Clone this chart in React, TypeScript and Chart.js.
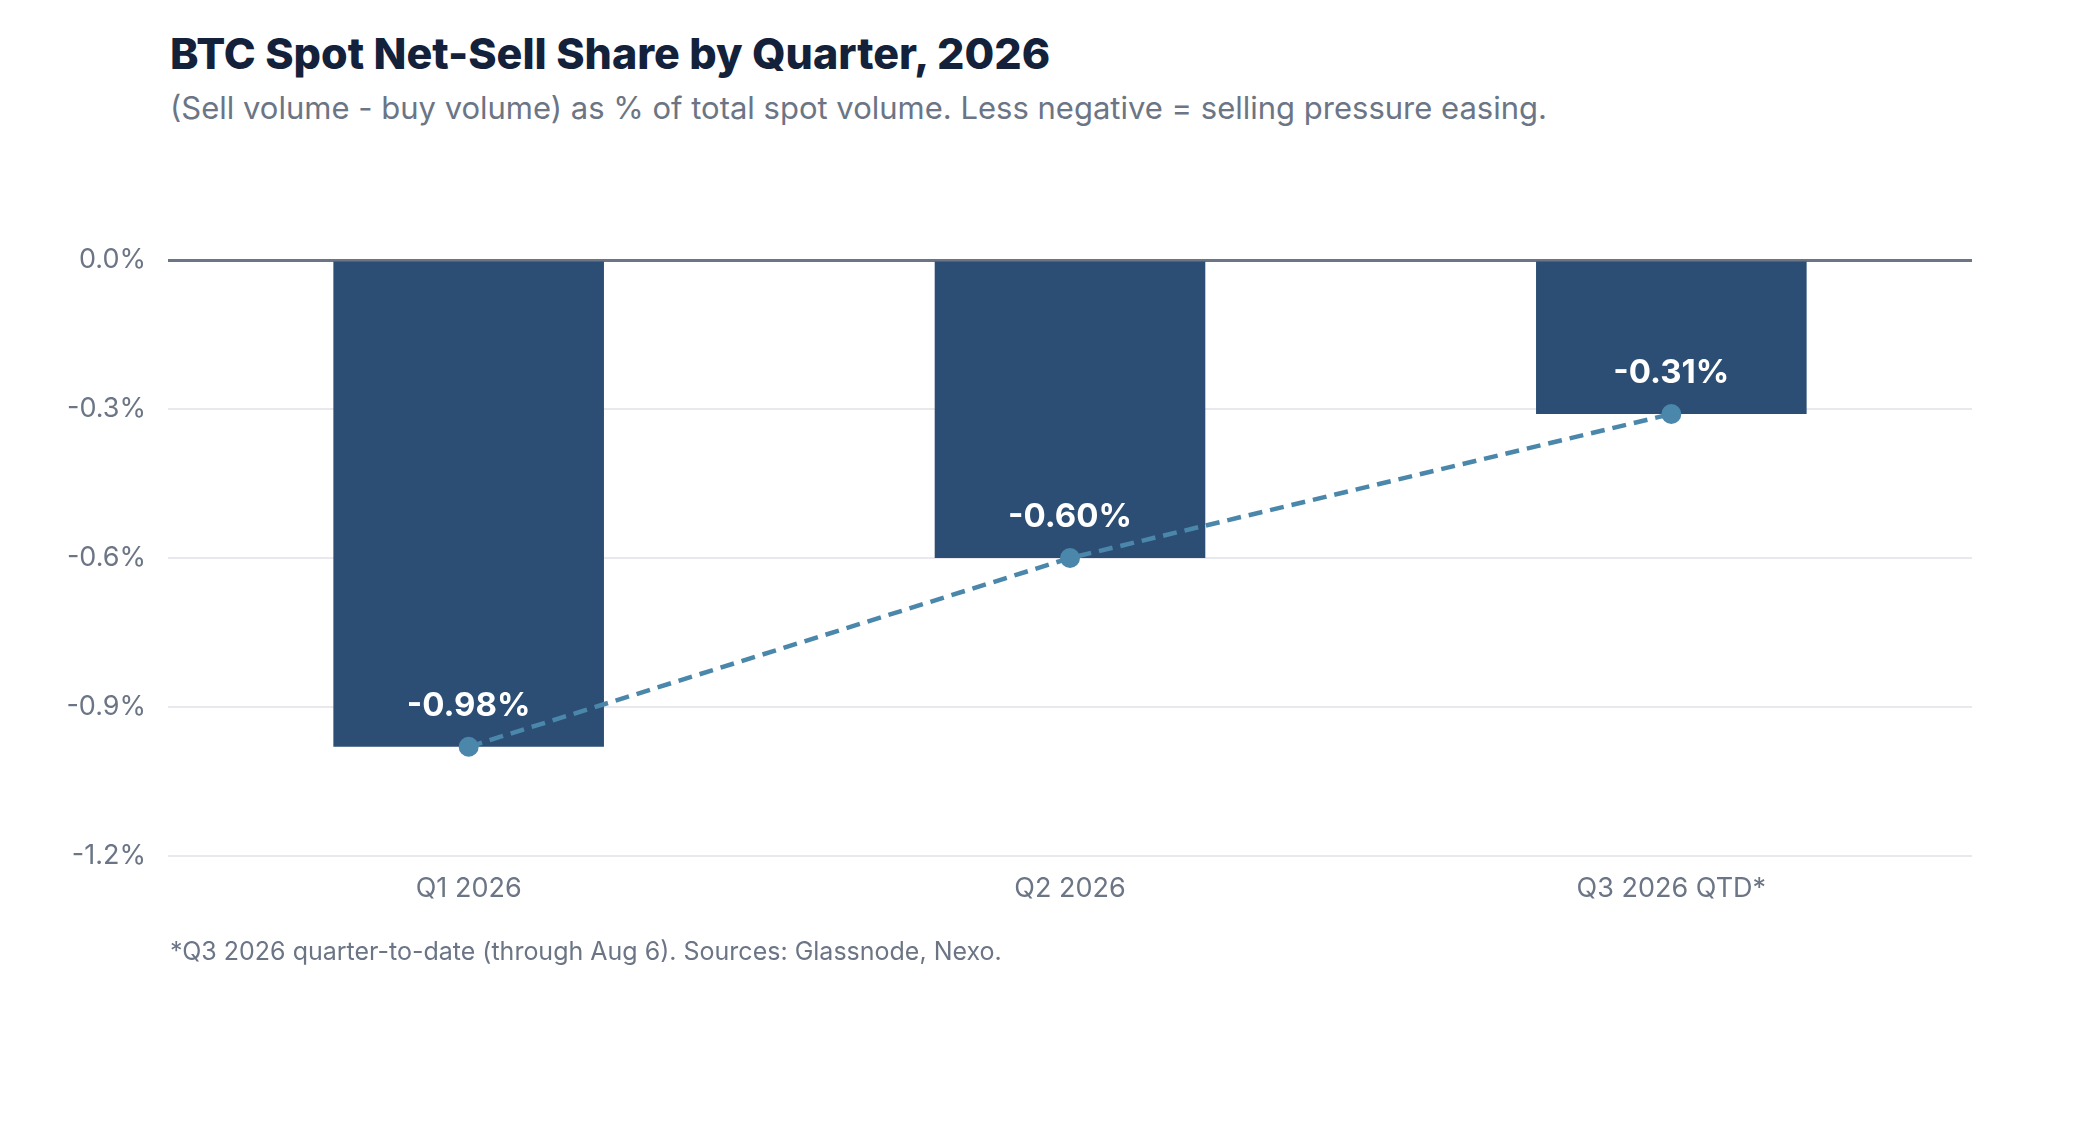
import React, { useEffect, useRef } from "react";
import { Chart, registerables } from "chart.js";

Chart.register(...registerables);

const categories = ["Q1 2026", "Q2 2026", "Q3 2026 QTD*"];
const netSellShare = [-0.98, -0.6, -0.31];
const valueLabels = ["-0.98%", "-0.60%", "-0.31%"];
const yMin = -1.2;
const yMax = 0;
const yStep = 0.3;

const FONT = "Inter, 'Liberation Sans', Arial, sans-serif";
const BAR_COLOR = "#2c4e74";
const LINE_COLOR = "#4a87ab";
const AXIS_GRAY = "#6b7585";

const valueLabelPlugin = {
  id: "valueLabels",
  afterDatasetsDraw(chart: any) {
    const ctx = chart.ctx;
    const barMeta = chart.getDatasetMeta(0);
    const lineMeta = chart.getDatasetMeta(1);
    ctx.save();
    ctx.fillStyle = "#ffffff";
    ctx.font = `bold 33px ${FONT}`;
    ctx.textAlign = "center";
    ctx.textBaseline = "alphabetic";
    barMeta.data.forEach((bar: any, i: number) => {
      const pt = lineMeta.data[i];
      ctx.fillText(valueLabels[i], bar.x, pt.y - 31);
    });
    ctx.restore();
  },
};

export default function App() {
  const canvasRef = useRef<HTMLCanvasElement | null>(null);

  useEffect(() => {
    if (!canvasRef.current) return;
    const chart = new Chart(canvasRef.current, {
      type: "bar",
      data: {
        labels: categories,
        datasets: [
          {
            type: "bar",
            data: netSellShare,
            backgroundColor: BAR_COLOR,
            borderWidth: 0,
            barPercentage: 0.45,
            categoryPercentage: 1,
            order: 2,
          },
          {
            type: "line",
            data: netSellShare,
            borderColor: LINE_COLOR,
            backgroundColor: LINE_COLOR,
            borderWidth: 4.5,
            borderDash: [14, 8],
            pointRadius: 10,
            pointBorderWidth: 0,
            pointBackgroundColor: LINE_COLOR,
            fill: false,
            tension: 0,
            order: 1,
          } as any,
        ],
      },
      options: {
        animation: false,
        responsive: false,
        maintainAspectRatio: false,
        devicePixelRatio: 1,
        layout: { padding: { top: 60, right: 106, left: 0, bottom: 0 } },
        plugins: {
          legend: { display: false },
          tooltip: { enabled: false },
          title: { display: false },
        },
        scales: {
          x: {
            grid: { display: false, drawTicks: false },
            border: { display: false },
            ticks: {
              color: AXIS_GRAY,
              font: { family: FONT, size: 27 },
              padding: 17,
            },
            afterFit: (scale: any) => {
              scale.height = 84;
            },
          },
          y: {
            min: yMin,
            max: yMax,
            grid: {
              drawTicks: false,
              color: (c: any) => (c.tick && Math.abs(c.tick.value) < 1e-9 ? AXIS_GRAY : "#e8e8ee"),
              lineWidth: (c: any) => (c.tick && Math.abs(c.tick.value) < 1e-9 ? 3 : 2),
            },
            border: { display: false },
            ticks: {
              stepSize: yStep,
              color: AXIS_GRAY,
              font: { family: FONT, size: 27 },
              padding: 22,
              callback: (v: any) => `${Number(v).toFixed(1)}%`,
            },
            afterFit: (scale: any) => {
              scale.width = 168;
            },
          },
        },
      },
      plugins: [valueLabelPlugin],
    });
    return () => chart.destroy();
  }, []);

  return (
    <div
      style={{
        position: "absolute",
        left: 0,
        top: 0,
        width: 2078,
        height: 1140,
        background: "#ffffff",
        fontFamily: FONT,
      }}
    >
      <div
        style={{
          position: "absolute",
          left: 170,
          top: 32,
          fontSize: 43,
          lineHeight: "43px",
          fontWeight: 800,
          color: "#13213b",
          whiteSpace: "nowrap",
        }}
      >
        BTC Spot Net-Sell Share by Quarter, 2026
      </div>
      <div
        style={{
          position: "absolute",
          left: 170,
          top: 92,
          fontSize: 31,
          lineHeight: "31px",
          color: AXIS_GRAY,
          whiteSpace: "nowrap",
        }}
      >
        (Sell volume - buy volume) as % of total spot volume. Less negative = selling pressure easing.
      </div>
      <canvas
        ref={canvasRef}
        width={2078}
        height={740}
        style={{ position: "absolute", left: 0, top: 200, width: 2078, height: 740 }}
      />
      <div
        style={{
          position: "absolute",
          left: 170,
          top: 939,
          fontSize: 25,
          lineHeight: "25px",
          color: AXIS_GRAY,
          whiteSpace: "nowrap",
        }}
      >
        *Q3 2026 quarter-to-date (through Aug 6). Sources: Glassnode, Nexo.
      </div>
    </div>
  );
}
